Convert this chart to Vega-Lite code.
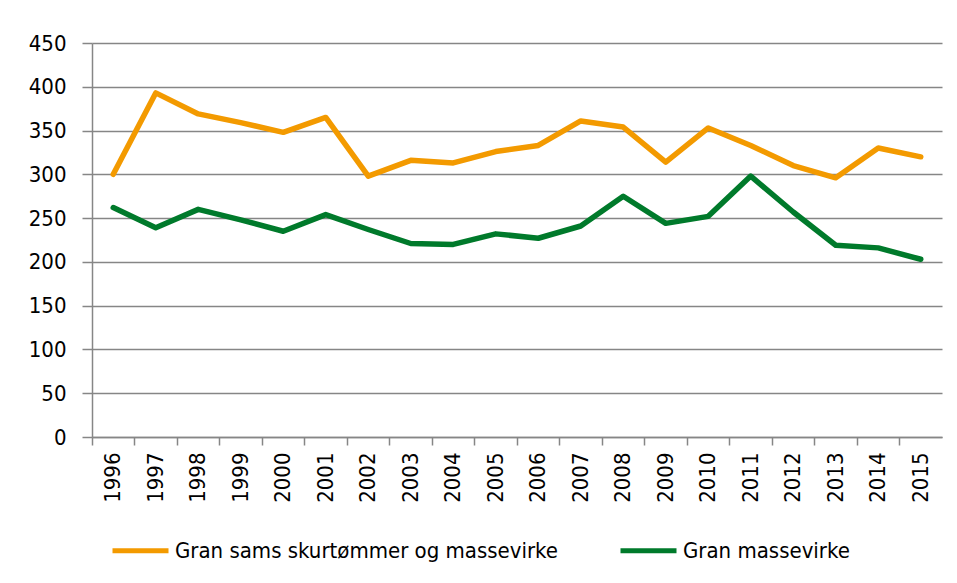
{
  "$schema": "https://vega.github.io/schema/vega-lite/v6.json",
  "width": 850,
  "height": 394,
  "autosize": "none",
  "padding": {"left": 92, "top": 43, "right": 15, "bottom": 146},
  "background": "white",
  "config": {
    "view": {"stroke": null},
    "font": "DejaVu Sans Condensed",
    "axis": {"labelFont": "DejaVu Sans Condensed", "labelFontSize": 22, "labelColor": "#000000", "domainColor": "#868686", "tickColor": "#868686", "gridColor": "#868686", "domainWidth": 1.5, "tickWidth": 1.5, "gridWidth": 1.5}
  },
  "data": {"values": [
    {"year": "1996", "series": "Gran sams skurtømmer og massevirke", "value": 300},
    {"year": "1997", "series": "Gran sams skurtømmer og massevirke", "value": 393},
    {"year": "1998", "series": "Gran sams skurtømmer og massevirke", "value": 369},
    {"year": "1999", "series": "Gran sams skurtømmer og massevirke", "value": 359},
    {"year": "2000", "series": "Gran sams skurtømmer og massevirke", "value": 348},
    {"year": "2001", "series": "Gran sams skurtømmer og massevirke", "value": 365},
    {"year": "2002", "series": "Gran sams skurtømmer og massevirke", "value": 298},
    {"year": "2003", "series": "Gran sams skurtømmer og massevirke", "value": 316},
    {"year": "2004", "series": "Gran sams skurtømmer og massevirke", "value": 313},
    {"year": "2005", "series": "Gran sams skurtømmer og massevirke", "value": 326},
    {"year": "2006", "series": "Gran sams skurtømmer og massevirke", "value": 333},
    {"year": "2007", "series": "Gran sams skurtømmer og massevirke", "value": 361},
    {"year": "2008", "series": "Gran sams skurtømmer og massevirke", "value": 354},
    {"year": "2009", "series": "Gran sams skurtømmer og massevirke", "value": 314},
    {"year": "2010", "series": "Gran sams skurtømmer og massevirke", "value": 353},
    {"year": "2011", "series": "Gran sams skurtømmer og massevirke", "value": 333},
    {"year": "2012", "series": "Gran sams skurtømmer og massevirke", "value": 310},
    {"year": "2013", "series": "Gran sams skurtømmer og massevirke", "value": 296},
    {"year": "2014", "series": "Gran sams skurtømmer og massevirke", "value": 330},
    {"year": "2015", "series": "Gran sams skurtømmer og massevirke", "value": 320},
    {"year": "1996", "series": "Gran massevirke", "value": 262},
    {"year": "1997", "series": "Gran massevirke", "value": 239},
    {"year": "1998", "series": "Gran massevirke", "value": 260},
    {"year": "1999", "series": "Gran massevirke", "value": 248},
    {"year": "2000", "series": "Gran massevirke", "value": 235},
    {"year": "2001", "series": "Gran massevirke", "value": 254},
    {"year": "2002", "series": "Gran massevirke", "value": 237},
    {"year": "2003", "series": "Gran massevirke", "value": 221},
    {"year": "2004", "series": "Gran massevirke", "value": 220},
    {"year": "2005", "series": "Gran massevirke", "value": 232},
    {"year": "2006", "series": "Gran massevirke", "value": 227},
    {"year": "2007", "series": "Gran massevirke", "value": 241},
    {"year": "2008", "series": "Gran massevirke", "value": 275},
    {"year": "2009", "series": "Gran massevirke", "value": 244},
    {"year": "2010", "series": "Gran massevirke", "value": 252},
    {"year": "2011", "series": "Gran massevirke", "value": 298},
    {"year": "2012", "series": "Gran massevirke", "value": 257},
    {"year": "2013", "series": "Gran massevirke", "value": 219},
    {"year": "2014", "series": "Gran massevirke", "value": 216},
    {"year": "2015", "series": "Gran massevirke", "value": 203}
  ]},
  "layer": [
    {
      "mark": {"type": "rule", "opacity": 0},
      "encoding": {
        "x": {"field": "year", "type": "ordinal", "scale": {"type": "band", "paddingInner": 0, "paddingOuter": 0},
          "axis": {"orient": "bottom", "bandPosition": 0, "labels": false, "ticks": true, "tickSize": 8, "title": null, "domain": true, "grid": false}}
      }
    },
    {
      "mark": {"type": "line", "strokeWidth": 5.5, "strokeCap": "round", "strokeJoin": "round"},
      "encoding": {
        "x": {"field": "year", "type": "ordinal", "scale": {"type": "band", "paddingInner": 0, "paddingOuter": 0},
          "axis": {"orient": "bottom", "ticks": false, "domain": false, "labelAngle": -90, "labelAlign": "right", "labelBaseline": "middle", "labelPadding": 15, "title": null, "grid": false}},
        "y": {"field": "value", "type": "quantitative", "scale": {"domain": [0, 450]},
          "axis": {"values": [0, 50, 100, 150, 200, 250, 300, 350, 400, 450], "title": null, "tickSize": 10, "labelPadding": 16, "grid": true}},
        "color": {"field": "series", "type": "nominal",
          "scale": {"domain": ["Gran sams skurtømmer og massevirke", "Gran massevirke"], "range": ["#F39A00", "#007A2B"]},
          "legend": {"title": null, "orient": "none", "legendX": 18, "legendY": 477, "padding": 0, "direction": "horizontal", "symbolType": "stroke", "symbolSize": 3136, "symbolStrokeWidth": 5, "labelOffset": 4, "labelFont": "DejaVu Sans Condensed", "labelFontSize": 22, "labelColor": "#000000", "columnPadding": 52, "labelLimit": 600}}
      }
    }
  ],
  "resolve": {"axis": {"x": "independent"}}
}
